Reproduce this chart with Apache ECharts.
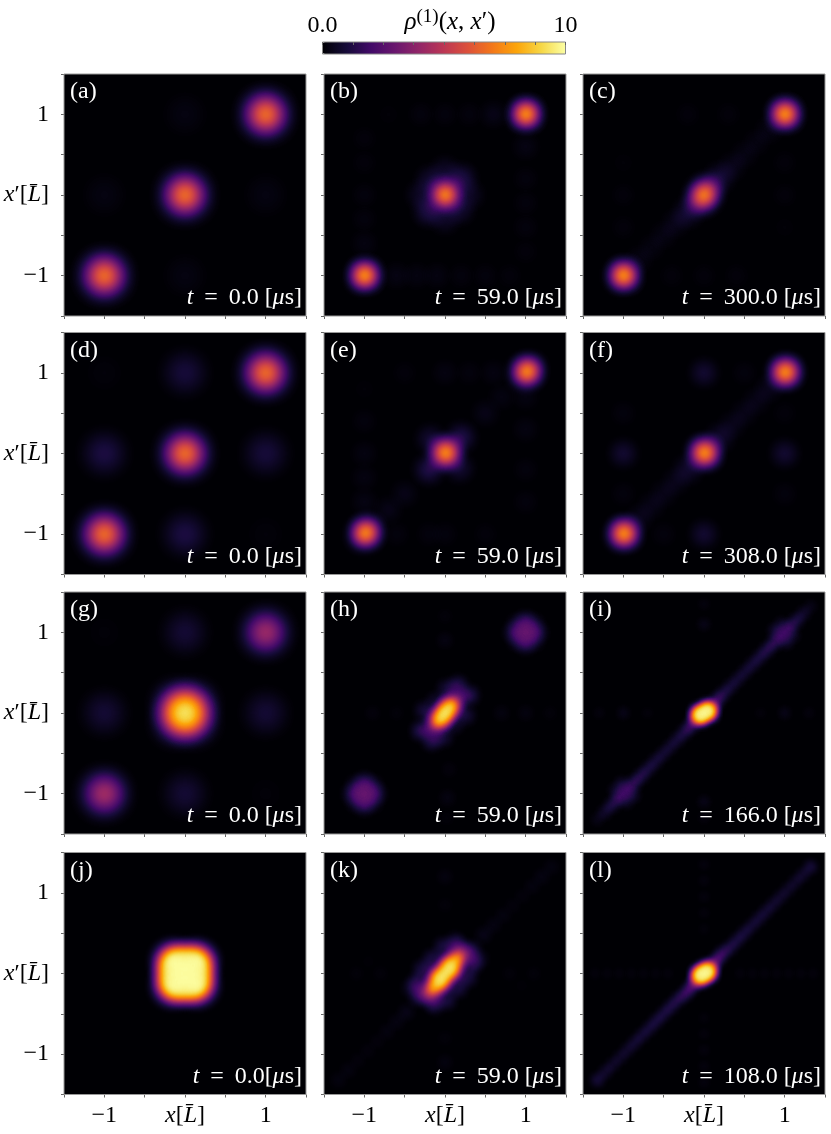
<!DOCTYPE html>
<html>
<head>
<meta charset="utf-8">
<title>rho1 panels</title>
<script src="https://cdn.jsdelivr.net/npm/echarts@6/dist/echarts.min.js"></script>
<style>
  html, body { margin: 0; padding: 0; background: #fff; }
  #chart { width: 831px; height: 1134px; }
</style>
</head>
<body>
<div id="chart"></div>
<script>
// density blobs: [x, x', rho]
const panelA = [[-1,-1,8],[0,0,8],[1,1,8],[0,1,0.3],[-1,0,0.3],[1,0,0.3],[0,-1,0.3]]
const panelB = [[-1,-1,10],[-0.99,-0.99,8],[0,0,10],[0.01,0.01,7],[1,1,10],[1.01,1.01,8],
  [-0.18,0.18,1.6],[0.18,-0.18,1.6],[0.2,0.2,2.4],[-0.2,-0.2,2.4],[0,0.3,1.2],[0,-0.3,1.2],[-0.3,0,1.2],[0.3,0,1.2],
  [-0.6,-1,0.6],[-0.35,-1,0.5],[-0.1,-1,0.5],[0.2,-1,0.4],[0.5,-1,0.4],[0.8,-1,0.3],
  [-1,-0.6,0.5],[-1,-0.3,0.4],[-1,0,0.4],[-1,0.4,0.3],[-1,0.7,0.3],
  [1,-0.7,0.3],[1,-0.4,0.4],[1,-0.1,0.4],[1,0.2,0.4],[1,0.6,0.6],
  [0.6,1,0.7],[0.3,1,0.4],[0,1,0.4],[-0.3,1,0.4],[-0.7,1,0.2]]
const panelC = [[-1,-1,10],[-0.99,-0.99,8],[1,1,10],[1.01,1.01,8],[0,0,10],[0.05,0.07,5],[-0.05,-0.07,5],
  [-0.8,-0.8,0.6],[-0.65,-0.65,0.5],[-0.5,-0.5,0.6],[-0.35,-0.35,0.8],[-0.2,-0.22,1.6],
  [0.2,0.22,1.6],[0.35,0.35,0.8],[0.5,0.5,0.6],[0.65,0.65,0.5],[0.8,0.8,0.6],
  [-1,0,0.3],[-1,-0.4,0.3],[-1,0.4,0.2],[1,0.4,0.3],[1,0,0.3],[1,-0.4,0.2],[-0.4,-1,0.3],[0,-1,0.3],[0.4,-1,0.3],[-0.2,1,0.3],[0.3,1,0.3]]
const panelD = [[-1,-1,8],[0,0,8],[1,1,8],[-1,0,1.4],[0,-1,1.4],[1,0,1.2],[0,1,1.2],[1,-1,0.15],[-1,1,0.15]]
const panelE = [[-1,-1,10],[-0.96,-0.96,8],[0,0,10],[0.02,0.02,8],[1,1,10],[1.04,1.04,8],
  [-0.18,0.18,1.6],[0.18,-0.18,1.6],[0.2,0.2,2.4],[-0.2,-0.2,2.4],[-0.5,-0.5,0.7],[-0.7,-0.7,0.7],[0.5,0.5,0.7],[0.7,0.7,0.5],
  [-1,-0.6,0.6],[-1,-0.3,0.5],[-1,0,0.5],[-1,0.4,0.4],[-1,0.8,0.2],
  [1,-0.6,0.4],[1,-0.2,0.4],[1,0.3,0.5],[1,0.7,0.5],
  [-0.6,-1,0.4],[-0.2,-1,0.4],[0,-1,0.4],[0.5,-1,0.3],[-0.5,1,0.3],[0,1,0.5],[0.3,1,0.4],[0.6,1,0.5]]
const panelF = [[-1,-1,10],[-0.98,-0.98,8],[0,0,10],[0.02,0.02,8],[1,1,10],[1.02,1.02,8],
  [-0.2,-0.2,1.4],[0.2,0.2,1.4],[-0.35,-0.35,0.8],[0.35,0.35,0.8],[-0.5,-0.5,0.7],[0.5,0.5,0.7],[-0.65,-0.65,0.7],[0.65,0.65,0.7],[-0.8,-0.8,0.8],[0.8,0.8,0.8],
  [0,1,1.6],[0,-1,1.6],[-1,0,1.6],[1,0,1.6],[-1,0.5,0.4],[1,-0.5,0.4],[-0.5,-1,0.4],[0.5,1,0.4],[-1,-0.5,0.4],[1,0.5,0.3]]
const panelG = [[-1,-1,5.2],[1,1,5],[0,0,10],[0.1,0.1,3.5],[-0.1,-0.1,3.5],[0.1,-0.1,3.5],[-0.1,0.1,3.5],
  [-1,0,1.1],[1,0,1.1],[0,1,1.1],[0,-1,1.1],[-1,1,0.1],[1,-1,0.1]]
const panelH = [[0,0,10],[0.02,0.03,10],[-0.02,-0.03,10],[0.05,0.06,10],[-0.05,-0.06,10],[0.08,0.1,10],[-0.08,-0.1,10],[0.16,0.18,4],[-0.16,-0.18,4],[0.05,0.14,2.5],[-0.05,-0.14,2.5],[0.14,0.05,2.5],[-0.14,-0.05,2.5],
  [0.3,0.22,3],[-0.3,-0.22,3],[0.16,0.34,3],[-0.16,-0.34,3],[0.02,0.3,2],[-0.02,-0.3,2],[-0.26,0.03,2],[0.26,-0.03,2],[-0.12,0.14,1.6],[0.12,-0.14,1.6],
  [-1,-1,4],[-1.14,-1,3],[-0.86,-1,3],[-1,-1.14,3],[-1,-0.86,3],[-1.1,-1.1,2],[-0.9,-0.9,2],[-1.1,-0.9,2],[-0.9,-1.1,2],
  [1,1,4],[1.14,1,3],[0.86,1,3],[1,1.14,3],[1,0.86,3],[1.1,1.1,2],[0.9,0.9,2],[1.1,0.9,2],[0.9,1.1,2],
  [-0.9,0,0.4],[-0.6,0,0.3],[0.7,0,0.5],[1,0,0.5],[1.3,0,0.3],[0,0.9,0.6],[0,1.2,0.3],[0.05,-0.7,0.4],[0.03,-1.05,0.6],[0.02,-1.3,0.3]]
const panelI = [[0,0,10],[0.02,0.02,10],[-0.02,-0.02,10],[0.06,0.05,10],[-0.06,-0.05,10],[0.07,-0.02,10],[-0.07,0.02,10],[0.03,0.07,10],[-0.03,-0.07,10],[0.08,0.02,10],[-0.08,-0.02,10],[0.11,0.07,4],[-0.11,-0.07,4],
  [0.16,0.16,3],[0.24,0.24,2.2],[0.33,0.33,1.8],[0.42,0.42,1.6],[0.51,0.51,1.6],[0.6,0.6,1.8],[0.69,0.69,2],[0.78,0.78,2.4],[0.87,0.87,2.8],[0.96,0.96,3],[1.05,1.05,3],[1.14,1.14,2.2],[1.23,1.23,1.4],[1.32,1.32,0.7],
  [-0.16,-0.16,3],[-0.24,-0.24,2.2],[-0.33,-0.33,1.8],[-0.42,-0.42,1.6],[-0.51,-0.51,1.6],[-0.6,-0.6,1.8],[-0.69,-0.69,2],[-0.78,-0.78,2.4],[-0.87,-0.87,2.8],[-0.96,-0.96,3],[-1.05,-1.05,3],[-1.14,-1.14,2.2],[-1.23,-1.23,1.4],[-1.32,-1.32,0.7],
  [1.02,0.88,1.6],[0.88,1.02,1.6],[1.1,0.96,1.3],[0.96,1.1,1.3],[-1.02,-0.88,1.6],[-0.88,-1.02,1.6],[-1.1,-0.96,1.3],[-0.96,-1.1,1.3],
  [-1,0,0.7],[-1.3,0,0.4],[-0.7,0,0.3],[1,0,0.7],[1.3,0,0.4],[0.7,0,0.3],[0,1.1,0.7],[0,1.35,0.4],[0,-1.1,0.7],[0,-1.3,0.4]]
const panelJ = [[0,0,10],[0.14,0.14,10],[-0.14,-0.14,10],[0.14,-0.14,10],[-0.14,0.14,10],[0.12,0,6],[-0.12,0,6],[0,0.12,6],[0,-0.12,6]]
const panelK = [[0,0,10],[0.03,0.04,10],[-0.03,-0.04,10],[0.07,0.09,10],[-0.07,-0.09,10],[0.12,0.15,10],[-0.12,-0.15,10],[0.16,0.2,10],[-0.16,-0.2,10],[0.04,0.11,10],[-0.04,-0.11,10],[0.1,0.03,10],[-0.1,-0.03,10],[0.24,0.25,3],[-0.24,-0.25,3],
  [0.32,0.28,3],[-0.32,-0.28,3],[0.16,0.34,3],[-0.16,-0.34,3],[0.34,0.12,3],[-0.34,-0.12,3],[-0.16,0.18,2.4],[0.16,-0.18,2.4],[-0.28,0.05,2.4],[0.28,-0.05,2.4],[-0.02,0.33,2.4],[0.02,-0.33,2.4],[-0.12,-0.4,1.4],[0.12,0.4,1.4],[-0.42,-0.18,1.4],[0.42,0.18,1.4],
  [0.48,0.48,0.8],[0.6,0.6,0.6],[0.72,0.72,0.5],[0.84,0.84,0.4],[0.96,0.96,0.4],[1.08,1.08,0.5],[1.2,1.2,0.6],[1.32,1.32,0.5],
  [-0.48,-0.48,0.8],[-0.6,-0.6,0.6],[-0.72,-0.72,0.5],[-0.84,-0.84,0.4],[-0.96,-0.96,0.4],[-1.08,-1.08,0.4],[-1.2,-1.2,0.5],[-1.32,-1.32,0.5],
  [-1.1,0,0.3],[-0.8,0,0.3],[-0.95,0.15,0.2],[0.8,0,0.3],[1.1,0,0.3],[0.95,-0.15,0.2],[0,1.2,0.5],[0,0.85,0.3],[0,-1.1,0.5],[0,-0.8,0.3]]
const panelL = [[0,0,10],[0.02,0.01,10],[-0.02,-0.01,10],[0.06,0.05,10],[-0.06,-0.05,10],[0.06,-0.02,10],[-0.06,0.02,10],[0.02,0.07,10],[-0.02,-0.07,10],[0.08,0.02,10],[-0.08,-0.02,10],[0.1,0.1,4],[-0.1,-0.1,4],
  [0.16,0.17,3.4],[0.23,0.25,2.8],[0.32,0.32,2.2],[0.41,0.41,2],[0.5,0.5,1.9],[0.59,0.59,1.6],[0.68,0.68,1.7],[0.77,0.77,1.6],[0.86,0.86,1.5],[0.95,0.95,1.4],[1.04,1.04,1.3],[1.13,1.13,1.3],[1.22,1.22,1.5],[1.32,1.32,1.9],
  [-0.16,-0.17,3.4],[-0.23,-0.25,2.8],[-0.32,-0.32,2.4],[-0.41,-0.41,2.2],[-0.5,-0.5,2],[-0.59,-0.59,2],[-0.68,-0.68,1.8],[-0.77,-0.77,1.7],[-0.86,-0.86,1.6],[-0.95,-0.95,1.4],[-1.04,-1.04,1.3],[-1.13,-1.13,1.3],[-1.22,-1.22,1.5],[-1.32,-1.32,1.9],
  [-1.35,0,0.35],[-1.2,0,0.35],[-1.05,0,0.35],[-0.9,0,0.35],[-0.75,0,0.35],[-0.6,0,0.35],[-0.45,0,0.35],[0.45,0,0.35],[0.6,0,0.35],[0.75,0,0.35],[0.9,0,0.35],[1.05,0,0.35],[1.2,0,0.35],[1.35,0,0.35],
  [0,1.35,0.4],[0,1.15,0.4],[0,0.95,0.4],[0,0.75,0.35],[0,0.55,0.3],[0,-0.55,0.3],[0,-0.75,0.35],[0,-0.95,0.4],[0,-1.15,0.4],[0,-1.35,0.4]]

const panelData = [panelA, panelB, panelC, panelD, panelE, panelF, panelG, panelH, panelI, panelJ, panelK, panelL]
const panelTags = ['(a)', '(b)', '(c)', '(d)', '(e)', '(f)', '(g)', '(h)', '(i)', '(j)', '(k)', '(l)']
const panelTimes = ['0.0', '59.0', '300.0', '0.0', '59.0', '308.0', '0.0', '59.0', '166.0', '0.0', '59.0', '108.0']
const infernoColors = ['#000004', '#160b39', '#420a68', '#6a176e', '#932667', '#bc3754', '#dd513a', '#f37819', '#fca50a', '#f6d746', '#fcffa4']
const colorbarTicks = { 0: '0.0', 10: '10' }

// brush of every panel, [pointSize, blurSize]
const brushes = [
  [17, 19], [9, 15], [9, 15],
  [17, 19], [9, 15], [9, 15],
  [17, 19], [6, 11], [5, 8],
  [16, 14], [6, 11], [5, 8]
]

const colLefts = [64, 324, 583]
const rowTops = [74, 332.5, 592, 852.5]
const panelSize = 242
const serif = '"Liberation Serif", "DejaVu Serif", serif'
const fontSize = 24
const richText = {
  i: { fontFamily: serif, fontStyle: 'italic', fontSize: fontSize }
}

// a plain square "map": the geo component is what lets heatmap blur its points
echarts.registerMap('square', {
  type: 'FeatureCollection',
  features: [{
    type: 'Feature',
    properties: { name: 'square' },
    geometry: { type: 'Polygon', coordinates: [[[-1.5, -1.5], [-1.5, 1.5], [1.5, 1.5], [1.5, -1.5], [-1.5, -1.5]]] }
  }]
})

const geos = [], grids = [], xAxes = [], yAxes = [], series = [], texts = []

panelData.forEach((points, i) => {
  const col = i % 3
  const row = Math.floor(i / 3)
  const left = colLefts[col]
  const top = rowTops[row]
  const box = { left: left, top: top, width: panelSize, height: panelSize }

  geos.push(Object.assign({
    map: 'square',
    roam: false,
    silent: true,
    aspectScale: 1,
    boundingCoords: [[-1.5, 1.5], [1.5, -1.5]],
    label: { show: false },
    itemStyle: { areaColor: '#000004', borderWidth: 0 }
  }, box))

  grids.push(Object.assign({ show: true, borderColor: '#999', borderWidth: 1, z: 1 }, box))

  xAxes.push({
    type: 'value', gridIndex: i, min: -1.5, max: 1.5, interval: 0.5,
    splitLine: { show: false },
    axisLine: { show: false, onZero: false },
    axisTick: { show: true, length: 3, lineStyle: { color: '#666' } },
    axisLabel: {
      show: row === 3, margin: 9, color: '#000', fontFamily: serif, fontSize: fontSize, rich: richText,
      formatter: v => v === -1 ? '\u22121' : v === 1 ? '1' : v === 0 ? '{i|x}[{i|L\u0304}]' : ''
    }
  })
  yAxes.push({
    type: 'value', gridIndex: i, min: -1.5, max: 1.5, interval: 0.5,
    splitLine: { show: false },
    axisLine: { show: false, onZero: false },
    axisTick: { show: true, length: 3, lineStyle: { color: '#666' } },
    axisLabel: {
      show: col === 0, margin: 15, color: '#000', fontFamily: serif, fontSize: fontSize, rich: richText,
      formatter: v => v === -1 ? '\u22121' : v === 1 ? '1' : v === 0 ? '{i|x}\u2032[{i|L\u0304}]' : ''
    }
  })

  series.push({
    type: 'heatmap',
    coordinateSystem: 'geo',
    geoIndex: i,
    data: points,
    pointSize: brushes[i][0],
    blurSize: brushes[i][1],
    minOpacity: 1,
    maxOpacity: 1,
    silent: true,
    z: 3
  })

  texts.push({
    type: 'text', x: left + 6, y: top + 6, z: 20, silent: true,
    style: { text: panelTags[i], fill: '#fff', font: fontSize + 'px ' + serif }
  })
  const gap = '\u00a0\u2009'
  const unitGap = i === 9 ? '' : '\u00a0'
  texts.push({
    type: 'text', x: left + panelSize - 4, y: top + panelSize - 6, z: 20, silent: true,
    style: {
      text: '{i|t}' + gap + '=' + gap + panelTimes[i] + unitGap + '[{i|\u03bc}s]',
      fill: '#fff', align: 'right', verticalAlign: 'bottom', font: fontSize + 'px ' + serif,
      rich: { i: { fontFamily: serif, fontStyle: 'italic', fontSize: fontSize, fill: '#fff' } }
    }
  })
})

// colorbar: the visualMap draws the gradient, one more grid draws its ticks
grids.push({ show: true, left: 322.5, top: 42, width: 243, height: 12, borderColor: '#888', borderWidth: 1, backgroundColor: 'transparent', z: 12 })
xAxes.push({
  type: 'value', gridIndex: 12, min: 0, max: 10, interval: 1.25, position: 'top', z: 12,
  splitLine: { show: false },
  axisLine: { show: false, onZero: false },
  axisTick: { show: true, inside: true, length: 3, lineStyle: { color: '#666' } },
  axisLabel: {
    show: true, margin: 4, color: '#000', fontFamily: serif, fontSize: fontSize,
    formatter: v => colorbarTicks[v] || ''
  }
})
yAxes.push({ type: 'value', gridIndex: 12, min: 0, max: 1, show: false })

texts.push({
  type: 'text', x: 450, y: 22, z: 20, silent: true,
  style: {
    text: '{i|\u03c1}{sup|(1)}({i|x},\u00a0{i|x}\u2032)', fill: '#000', align: 'center', verticalAlign: 'middle', font: '25px ' + serif,
    rich: { i: { fontFamily: serif, fontStyle: 'italic', fontSize: 25 }, sup: { fontFamily: serif, fontSize: 19, verticalAlign: 'top', lineHeight: 28 } }
  }
})

const chart = echarts.init(document.getElementById('chart'), null, { renderer: 'canvas' })
chart.setOption({
  animation: false,
  backgroundColor: '#fff',
  geo: geos,
  grid: grids,
  xAxis: xAxes,
  yAxis: yAxes,
  series: series,
  graphic: { elements: texts },
  visualMap: {
    type: 'continuous',
    show: true,
    min: 0,
    max: 10,
    orient: 'horizontal',
    calculable: false,
    realtime: false,
    hoverLink: false,
    left: 322.5,
    top: 42,
    padding: 0,
    itemWidth: 12,
    itemHeight: 243,
    seriesIndex: series.map((s, i) => i),
    inRange: { color: infernoColors },
    textStyle: { fontSize: 0 }
  }
})
</script>
</body>
</html>
